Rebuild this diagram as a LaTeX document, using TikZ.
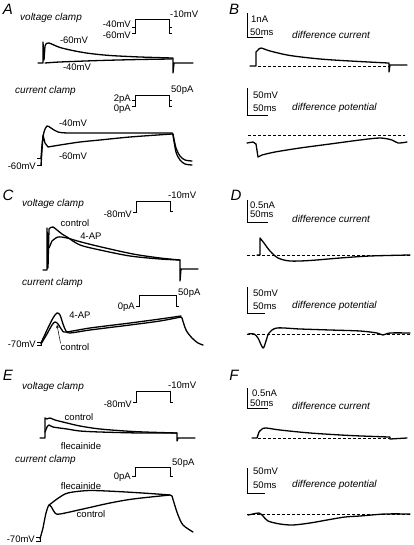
\documentclass[tikz,border=0pt]{standalone}
\usepackage{fontspec}
\setmainfont{Liberation Sans}
\usepackage{tikz}
\usetikzlibrary{arrows.meta}

\begin{document}
\begin{tikzpicture}[x=1pt, y=-1pt,
    every node/.style={inner sep=0pt, font=\fontsize{9.5}{10}\selectfont},
    trace/.style={line width=1.3pt, line join=round, line cap=round},
    cmd/.style={line width=0.8pt},
    bar/.style={line width=0.7pt},
    zero/.style={line width=0.8pt, dash pattern=on 2.5pt off 2.5pt},
    lbl/.style={font=\fontsize{10}{11}\selectfont\itshape, anchor=west},
    letter/.style={font=\fontsize{15}{16}\selectfont\itshape}]
\useasboundingbox (0,0) rectangle (413,545);

\foreach \p/\x/\y in {A/8/9, B/234/9, C/8/195, D/236/195, E/8/375, F/234/375}
    \node[letter] (L\p) at (\x,\y) {\p};

% A, voltage clamp
\node[lbl] (vcA) at (20,18) {voltage clamp};
\draw[cmd] (132,27) -- (135,27) (132,33) -- (135,33) -- (135,19) -- (169,19) -- (169,33) -- (172,33) (169,27) -- (172,27);
\node[anchor=east] (pA1) at (131,24) {-40mV};
\node[anchor=east] (pA2) at (131,35) {-60mV};
\node[anchor=west] (pA3) at (170,14) {-10mV};
\draw[trace] (38,63) -- (43,63) -- (43,42) -- (44,60) -- (45,46)
    -- plot[smooth] coordinates {(46,44) (49,43) (60,47.5) (75,51) (90,53.5) (110,55.5) (140,57) (172,58)}
    -- (173,58) -- (173,73) -- (174,63) -- (193,63);
\draw[trace] plot[smooth] coordinates {(45,63) (60,62) (100,60.5) (140,59.5) (172,59)};
\node (tA1) at (74,40) {-60mV};
\node (tA2) at (77,67) {-40mV};

% A, current clamp
\node[lbl] (ccA) at (15,91) {current clamp};
\draw[cmd] (132,100) -- (135,100) (132,106) -- (135,106) -- (135,95) -- (169,95) -- (169,106) -- (172,106) (169,100) -- (172,100);
\node[anchor=east] (qA1) at (131,99) {2pA};
\node[anchor=east] (qA2) at (131,109) {0pA};
\node[anchor=west] (qA3) at (171,90) {50pA};
\draw[cmd] (37,158) -- (41,158) -- (41,165) -- (37,165);
\node[anchor=east] (rA) at (36,166) {-60mV};
\draw[trace] (41,158) -- plot[smooth] coordinates {(42,145) (44,132) (47,126) (51,128) (58,132) (70,133) (120,133) (172,133)}
    -- plot[smooth] coordinates {(173,134) (176,148) (180,156) (185,160) (192,161)};
\draw[trace] (41,165) -- (42,150) -- (43,135) -- (45,143)
    -- plot[smooth] coordinates {(48,147) (60,145) (80,142) (100,140) (130,137) (172,134)}
    -- plot[smooth] coordinates {(173,135) (176,152) (180,160) (185,164) (192,165)};
\node (uA1) at (73,123) {-40mV};
\node (uA2) at (73,156) {-60mV};

% B
\draw[bar] (247,13) -- (247,37) -- (263,37);
\node[anchor=west] (sB1) at (251,19) {1nA};
\node[anchor=west] (sB2) at (250,32) {50ms};
\node[lbl] (dB1) at (292,35) {difference current};
\draw[zero] (258,66) -- (390,66);
\draw[trace] (250,66) -- (256,66) -- (256,52)
    -- plot[smooth] coordinates {(258,50) (261,48) (270,51) (290,55.5) (320,59) (350,61) (388,63)}
    -- (389,63) -- (389,72) -- (390,65) -- (407,65);
\draw[bar] (247,88) -- (247,115) -- (268,115);
\node[anchor=west] (sB3) at (253,95) {50mV};
\node[anchor=west] (sB4) at (253,108) {50ms};
\node[lbl] (dB2) at (292,108) {difference potential};
\draw[zero] (248,135) -- (405,135);
\draw[trace] (247,143) -- (253,142) -- (256,144) -- (258,157)
    -- plot[smooth] coordinates {(262,155) (275,152) (300,148) (330,144) (360,140) (380,138) (392,140) (398,143) (407,142)};

% C, voltage clamp
\node[lbl] (vcC) at (22,204) {voltage clamp};
\draw[cmd] (133,212) -- (136,212) -- (136,201) -- (170,201) -- (170,211) -- (173,211);
\node[anchor=east] (pC1) at (132,214) {-80mV};
\node[anchor=west] (pC2) at (168,195) {-10mV};
\draw[trace] (43,270) -- (47,270) -- (47,228) -- (48,268) -- (49,229)
    -- plot[smooth] coordinates {(50,228) (53,227) (57,230) (62,234) (67,237) (80,245) (100,250) (130,256) (160,259) (180,260)}
    -- (180,281) -- (181,269) -- (198,269);
\draw[trace] (49,248) -- plot[smooth] coordinates {(52,241) (58,237) (67,238) (80,241.7) (100,246.7) (133,254) (160,258) (180,260)};
\node (tC1) at (75,223) {control};
\node (tC2) at (91,236) {4-AP};

% C, current clamp
\node[lbl] (ccC) at (22,283) {current clamp};
\draw[cmd] (136,306) -- (139,306) -- (139,295) -- (176,295) -- (176,306) -- (179,306);
\node[anchor=east] (qC1) at (135,307) {0pA};
\node[anchor=west] (qC2) at (178,293) {50pA};
\draw[cmd] (37,342) -- (41,342) -- (41,345) -- (37,345);
\node[anchor=east] (rC) at (36,344) {-70mV};
\draw[trace] (41,343) -- plot[smooth] coordinates {(47,330) (53,318) (57,313) (60,315) (63,324) (66,331) (70,333) (90,330) (130,325) (160,321) (181,317)}
    -- plot[smooth] coordinates {(182,318) (186,330) (192,338) (198,343) (203,345)};
\draw[trace] (41,344) -- plot[smooth] coordinates {(47,334) (52,325) (55,322) (58,324) (62,330) (66,332) (90,328) (130,323) (160,319) (181,316)};
\node (uC1) at (80,315) {4-AP};
\node (uC2) at (75,347) {control};
\coordinate (pk) at (57,325);
\draw[-{Stealth[length=3pt,width=3pt]}, line width=0.5pt] (uC2.north west) -- (pk);

% D
\draw[bar] (247,200) -- (247,222) -- (268,222);
\node[anchor=west] (sD1) at (250,205) {0.5nA};
\node[anchor=west] (sD2) at (250,214) {50ms};
\node[lbl] (dD1) at (292,219) {difference current};
\draw[zero] (247,255) -- (410,255);
\draw[trace] (257,255) -- (260,255) -- (260,238)
    -- plot[smooth] coordinates {(264,243) (270,251) (278,258) (290,261) (310,260.5) (340,258) (370,256) (410,255)};
\draw[bar] (247,287) -- (247,313) -- (265,313);
\node[anchor=west] (sD3) at (253,293) {50mV};
\node[anchor=west] (sD4) at (253,306) {50ms};
\node[lbl] (dD2) at (292,306) {difference potential};
\draw[zero] (247,334) -- (410,334);
\draw[trace] plot[smooth] coordinates {(248,334) (254,334) (258,338) (263,348) (266,341) (269,333) (277,328) (300,329) (330,330) (360,331) (377,333) (383,335) (390,333) (410,333)};

% E, voltage clamp
\node[lbl] (vcE) at (22,387) {voltage clamp};
\draw[cmd] (133,402) -- (136,402) -- (136,391) -- (170,391) -- (170,402) -- (173,402);
\node[anchor=east] (pE1) at (132,404) {-80mV};
\node[anchor=west] (pE2) at (168,385) {-10mV};
\draw[trace] (40,438) -- (45,438) -- (45,418)
    -- plot[smooth] coordinates {(47,419) (50,418) (55,420) (67,423) (80,426) (100,429) (133,431.5) (160,432.5) (177,433)}
    -- (177,441) -- (178,438) -- (195,438);
\draw[trace] (45,432) -- plot[smooth] coordinates {(47,427) (49,425) (53,427) (67,429) (80,431) (100,432) (140,433) (177,433)};
\node (tE1) at (79,417) {control};
\node (tE2) at (81,446) {flecainide};

% E, current clamp
\node[lbl] (ccE) at (15,460) {current clamp};
\draw[cmd] (132,476) -- (135,476) -- (135,467) -- (170,467) -- (170,476) -- (173,476);
\node[anchor=east] (qE1) at (131,477) {0pA};
\node[anchor=west] (qE2) at (172,463) {50pA};
\draw[cmd] (36,537) -- (40,537) -- (40,541) -- (36,541);
\node[anchor=east] (rE) at (35,539) {-70mV};
\draw[trace] (40,539) -- plot[smooth] coordinates {(43,528) (46,513) (49,505) (52,508) (55,513) (60,514) (83,509) (110,503) (133,499) (170,495)}
    -- plot[smooth] coordinates {(172,496) (175,506) (178,515) (183,525) (193,532)};
\draw[trace] plot[smooth] coordinates {(49,505) (53,502) (57,499) (65,494) (73,492) (90,490.5) (117,491.5) (150,493.5) (170,495)};
\node (uE1) at (81,486) {flecainide};
\node (uE2) at (91,514) {control};

% F
\draw[bar] (247,388) -- (247,408) -- (268,408);
\node[anchor=west] (sF1) at (252,393) {0.5nA};
\node[anchor=west] (sF2) at (250,403) {50ms};
\node[lbl] (dF1) at (292,406) {difference current};
\draw[zero] (258,438) -- (390,438);
\draw[trace] (252,438) -- (257,438)
    -- plot[smooth] coordinates {(259,432) (262,429) (266,428) (280,430) (310,433) (350,435.5) (389,437)}
    -- (390,437) -- (390,439) -- (407,438);
\draw[bar] (247,468) -- (247,493) -- (265,493);
\node[anchor=west] (sF3) at (253,471) {50mV};
\node[anchor=west] (sF4) at (253,485) {50ms};
\node[lbl] (dF2) at (292,485) {difference potential};
\draw[zero] (247,514) -- (410,514);
\draw[trace] plot[smooth] coordinates {(248,515) (253,514) (259,513) (263,516) (268,521) (280,524) (293,525) (310,523) (327,520) (345,517) (360,516) (385,514) (410,514)};
\end{tikzpicture}
\end{document}
